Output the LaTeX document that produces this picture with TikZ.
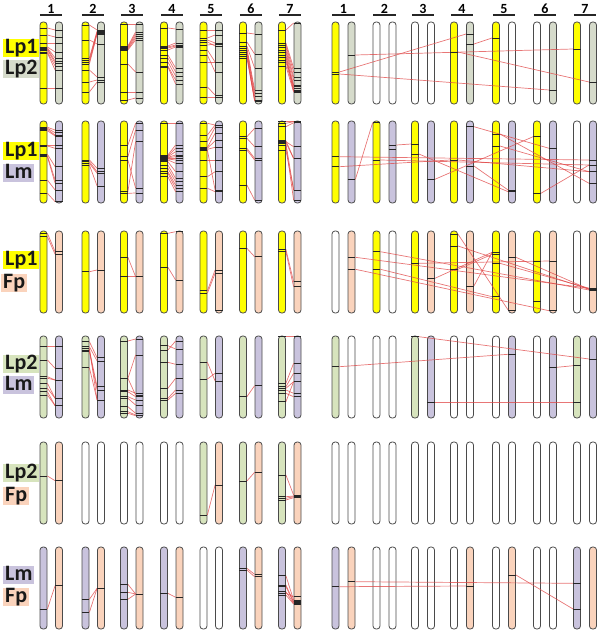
\documentclass[tikz,border=0pt]{standalone}
\usepackage{fontspec}
\newfontfamily\calfont{Carlito}
\definecolor{lpone}{HTML}{FFFF00}
\definecolor{lptwoa}{HTML}{D6DBCB}
\definecolor{lptwo}{HTML}{D7E4BD}
\definecolor{lm}{HTML}{C9C3DD}
\definecolor{fp}{HTML}{FAD3BC}
\definecolor{wt}{HTML}{FFFFFF}
\definecolor{chromline}{HTML}{4A4A4A}
\definecolor{linkred}{HTML}{E04848}
\tikzset{
  chrom/.style={draw=chromline, line width=0.8pt, rectangle, rounded corners=3pt,
    minimum width=7pt, minimum height=82pt, inner sep=0pt},
  link/.style={draw=linkred, line width=0.7pt, opacity=0.75},
  band/.style={draw=black!85, line width=0.6pt},
  hdr/.style={font=\calfont\bfseries\fontsize{14}{14}\selectfont, inner sep=0.8pt,
    minimum width=22pt, anchor=south},
  uline/.style={line width=1.2pt, draw=black!85},
  lab/.style={font=\calfont\bfseries\fontsize{22}{22}\selectfont, inner xsep=2pt,
    inner ysep=0.5pt, text height=14pt, text depth=3.5pt, anchor=west, text=black!90},
}
\newcommand\chrow[4]{%
  \foreach \ca/\cb [count=\i] in {#3}{%
    \pgfmathsetmacro\xx{{43.5,85.5,124,164,203.5,243,282}[\i-1]}%
    \node[chrom, fill=\ca] (r#1L\i A) at (\xx,#2+41) {};
    \node[chrom, fill=\cb] (r#1L\i B) at (\xx+15.5,#2+41) {};
  }%
  \foreach \ca/\cb [count=\i] in {#4}{%
    \pgfmathsetmacro\xx{{335.5,376.5,415,454,496,537,577}[\i-1]}%
    \node[chrom, fill=\ca] (r#1R\i A) at (\xx,#2+41) {};
    \node[chrom, fill=\cb] (r#1R\i B) at (\xx+16,#2+41) {};
  }%
}
\newif\ifbandpass
\newcommand\chbandraw[2]{\draw[band] (#1.west |- 0,#2) -- (#1.east |- 0,#2);}
\newcommand\chband[2]{\ifbandpass\chbandraw{#1}{#2}\fi}
\newcommand\chlink[4]{%
  \ifbandpass\chbandraw{#1}{#2}\chbandraw{#3}{#4}%
  \else\draw[link] (#1.east |- 0,#2) -- (#3.west |- 0,#4);\fi}
\newcommand\chlinks[3]{\foreach \ya/\yb in {#3}{\chlink{#1}{\ya}{#2}{\yb}}}
\def\alllinks{%
% ---- row 1
\chlinks{r1L1A}{r1L1B}{28/30,35/37,43/43,47/52,48/58,49/61,50/63,52/66,53/70,88/88}
\chlinks{r1L2A}{r1L2B}{25/30,58/31,60/32,62/33,64/34,40/44,82/80,92/82,70/77}
\chlinks{r1L3A}{r1L3B}{24/24,46/32,47/34,48/36,49/38,50/40,64/72,92/92,100/98}
\chlinks{r1L4A}{r1L4B}{28/29,46/43,47/45,48/46,50/47,55/68,58/72,62/76,66/80,67/84}
\chlinks{r1L5A}{r1L5B}{30/30,38/35,40/43,42/46,45/44,50/62,55/72,62/62,87/95,97/97}
\chlinks{r1L6A}{r1L6B}{33/34,42/54,46/68,48/90,50/93,52/96,54/100,56/101,58/100}
\chlinks{r1L7A}{r1L7B}{30/23,43/68,45/72,47/77,50/80,52/85,55/88,57/91,60/86,62/90,66/92}
\chlink{r1R1A}{72}{r1R4B}{34}
\chlink{r1R1B}{55}{r1R7A}{49}
\chlink{r1R1A}{74}{r1R6B}{90}
\chlink{r1R4A}{52}{r1R7B}{82}
\chlink{r1R4B}{44}{r1R5A}{38}
% ---- row 2
\chlinks{r2L1A}{r2L1B}{127.3/130,128.3/132.7,129.3/135,130.7/136,145/145,146/148.3,154.3/166.7,155.7/180,156.7/183.3,180/190,193.3/201.7}
\chlinks{r2L2A}{r2L2B}{160/168.3,161.7/171.7,163.3/173.3,165/186}
\chlinks{r2L3A}{r2L3B}{145/123.3,156.7/130,160/188,191.7/141.7,193.3/193}
\chlinks{r2L4A}{r2L4B}{123.3/123.3,155/145,156/148.3,156.7/151.7,157.3/155,157.7/156.7,158.3/158.3,159/160,160/163.3,161.7/171.7,165/178.3,168.3/181.7,171.7/185,173.3/188.3,176.7/191.7}
\chlinks{r2L5A}{r2L5B}{123.3/125,135/125,141.7/127.3,147.3/133.3,148.3/140.7,149.3/147.3,160/160,176.7/171.7,188.3/191.7,150/190}
\chlinks{r2L6A}{r2L6B}{136.7/128.3,138.3/146.7,148.3/158.3,150/160,185/200}
\chlinks{r2L7A}{r2L7B}{121.7/121.7,123.3/121.7,126.7/122.7,141.7/146.7,142.7/158.3,143.3/190,145/200,150/190,140.7/158.3}
\chlink{r2R1A}{156.7}{r2R7B}{160}
\chlink{r2R1A}{166.7}{r2R4A}{160}
\chlink{r2R1B}{179.3}{r2R2A}{122.7}
\chlink{r2R2A}{160}{r2R7B}{165}
\chlink{r2R2B}{145}{r2R3A}{144}
\chlink{r2R3A}{154}{r2R5B}{191.7}
\chlink{r2R3B}{179.3}{r2R6A}{136.7}
\chlink{r2R4A}{160}{r2R7B}{171.7}
\chlink{r2R4B}{126.7}{r2R6B}{148.3}
\chlink{r2R4B}{166}{r2R5B}{190}
\chlink{r2R5A}{134}{r2R7B}{183.3}
\chlink{r2R5A}{146}{r2R7B}{171.7}
\chlink{r2R6A}{193.3}{r2R7B}{165}
\chband{r2R2B}{149.3}
% ---- row 3
\chlinks{r3L1A}{r3L1B}{233.3/251.7,236.7/254.3}
\chlinks{r3L2A}{r3L2B}{271.7/270}
\chlinks{r3L3A}{r3L3B}{257.3/276.7,276.7/276.7}
\chlinks{r3L4A}{r3L4B}{233.3/231.7,267.3/280}
\chlinks{r3L5A}{r3L5B}{290.7/270,293.3/273.3}
\chband{r3L5B}{310}
\chlinks{r3L6A}{r3L6B}{248.3/256.7}
\chlinks{r3L7A}{r3L7B}{249.3/281.7,251.7/286.7}
\chlink{r3R1B}{257.3}{r3R7B}{288.3}
\chlink{r3R1B}{269.3}{r3R6B}{310.7}
\chlink{r3R2A}{251.7}{r3R7B}{290}
\chlink{r3R2A}{269.3}{r3R5A}{296.7}
\chlink{r3R3A}{263.3}{r3R6B}{261}
\chlink{r3R3B}{278.3}{r3R5A}{252.3}
\chlink{r3R4A}{234}{r3R5B}{310}
\chlink{r3R4A}{246}{r3R7B}{289.3}
\chlink{r3R4A}{269.3}{r3R5A}{254.3}
\chlink{r3R4B}{286}{r3R5A}{252.3}
\chlink{r3R5A}{263.3}{r3R7B}{288.3}
\chlink{r3R5B}{257.3}{r3R7B}{289.3}
\chband{r3R6A}{261}
\chband{r3R6A}{301.7}
% ---- row 4
\chlinks{r4L1A}{r4L1B}{346.7/346.7,360/368.3,376.7/380,378.3/380,383.3/398.3,388.3/398.3,391.7/405.7,395/405.7}
\chlinks{r4L2A}{r4L2B}{341.7/357.7,346.7/361,350/386.7,351.7/390,367.7/400,348.3/400}
\chlinks{r4L3A}{r4L3B}{341/339,378.3/355,390/393.3,391.7/396.7,396.7/400,398.3/405,406.7/413.3,411.7/415,413.3/415.7,378.3/395}
\chlinks{r4L4A}{r4L4B}{345.7/349,350/341,362.3/364.3,388.3/378.3,398.3/390,400/393.3}
\chlinks{r4L5A}{r4L5B}{362.3/381,379/373.3}
\chlinks{r4L6A}{r4L6B}{396.7/385.7}
\chlinks{r4L7A}{r4L7B}{336.7/336.7,383.3/363.3,386.7/373.3,388.3/381.7,390/393.3,393.3/396.7,401.7/381.7}
\chlink{r4R1A}{366.7}{r4R5B}{354.3}
\chlink{r4R3A}{336.7}{r4R7B}{359}
\chlink{r4R3B}{402.3}{r4R7A}{402.3}
\chlink{r4R6B}{367.3}{r4R7A}{365.7}
% ---- row 5
\chlinks{r5L1A}{r5L1B}{476/480.7}
\chlinks{r5L5A}{r5L5B}{515/485}
\chlinks{r5L6A}{r5L6B}{481/472.3}
\chlinks{r5L7A}{r5L7B}{475/495,496.7/496,498.3/496.7,500/497.7}
% ---- row 6
\chlinks{r6L1A}{r6L1B}{609/585.7}
\chlinks{r6L2A}{r6L2B}{599.3/588.3,612.3/588.3}
\chlinks{r6L3A}{r6L3B}{584.3/594,592.3/594,599.3/594}
\chlinks{r6L4A}{r6L4B}{593.3/597.3}
\chlinks{r6L6A}{r6L6B}{568.3/574.3,570/576.7}
\chlinks{r6L7A}{r6L7B}{575.7/600,585/601.7,586.7/602.3,591.7/603.3,595/604,593.3/596.7}
\chlink{r6R1A}{586.7}{r6R4B}{586}
\chlink{r6R1B}{581.7}{r6R7A}{583.3}
\chlink{r6R5B}{575}{r6R7A}{609}
}
\begin{document}
\begin{tikzpicture}[x=1pt,y=-1pt]
\useasboundingbox (0,0) rectangle (600,634);
% headers
\foreach \x [count=\i] in {51,93,132,172,211,251,290}{
  \node[hdr] (hL\i) at (\x,15) {\i};
  \draw[uline] (hL\i.south west) -- (hL\i.south east);
}
\foreach \x [count=\i] in {343.5,384.5,423,462,504,545,585}{
  \node[hdr] (hR\i) at (\x,15) {\i};
  \draw[uline] (hR\i.south west) -- (hR\i.south east);
}
% labels
\node[lab, fill=lpone] (a1) at (3,48) {Lp1};
\node[lab, fill=lptwoa] (b1) at (3,69) {Lp2};
\node[lab, fill=lpone] (a2) at (3,151) {Lp1};
\node[lab, fill=lm] (b2) at (3,173) {Lm};
\node[lab, fill=lpone] (a3) at (3,260) {Lp1};
\node[lab, fill=fp] (b3) at (1,283) {Fp};
\node[lab, fill=lptwo] (a4) at (3,364) {Lp2};
\node[lab, fill=lm] (b4) at (3,385) {Lm};
\node[lab, fill=lptwo] (a5) at (3,473) {Lp2};
\node[lab, fill=fp] (b5) at (3,496) {Fp};
\node[lab, fill=lm] (a6) at (3,575) {Lm};
\node[lab, fill=fp] (b6) at (3,597) {Fp};
% chromosomes
\chrow{1}{22}{lpone/lptwoa,lpone/lptwoa,lpone/lptwoa,lpone/lptwoa,lpone/lptwoa,lpone/lptwoa,lpone/lptwoa}
  {lpone/lptwoa,wt/wt,wt/wt,lpone/lptwoa,lpone/wt,wt/lptwoa,lpone/lptwoa}
\chrow{2}{121}{lpone/lm,lpone/lm,lpone/lm,lpone/lm,lpone/lm,lpone/lm,lpone/lm}
  {lpone/lm,lpone/lm,lpone/lm,lpone/lm,lpone/lm,lpone/lm,wt/lm}
\chrow{3}{231}{lpone/fp,lpone/fp,lpone/fp,lpone/fp,lpone/fp,lpone/fp,lpone/fp}
  {wt/fp,lpone/wt,lpone/fp,lpone/fp,lpone/fp,lpone/fp,wt/fp}
\chrow{4}{336}{lptwo/lm,lptwo/lm,lptwo/lm,lptwo/lm,lptwo/lm,lptwo/lm,lptwo/lm}
  {lptwo/wt,wt/wt,lptwo/lm,wt/wt,wt/lm,wt/lm,lptwo/lm}
\chrow{5}{442}{lptwo/fp,wt/wt,wt/wt,wt/wt,lptwo/fp,lptwo/fp,lptwo/fp}
  {wt/wt,wt/wt,wt/wt,wt/wt,wt/wt,wt/wt,wt/wt}
\chrow{6}{547}{lm/fp,lm/fp,lm/fp,lm/fp,wt/wt,lm/fp,lm/fp}
  {lm/fp,wt/wt,wt/wt,wt/fp,wt/fp,wt/wt,lm/fp}
% links first, then bands on top
\bandpassfalse
\alllinks
\bandpasstrue
\alllinks
\end{tikzpicture}
\end{document}
